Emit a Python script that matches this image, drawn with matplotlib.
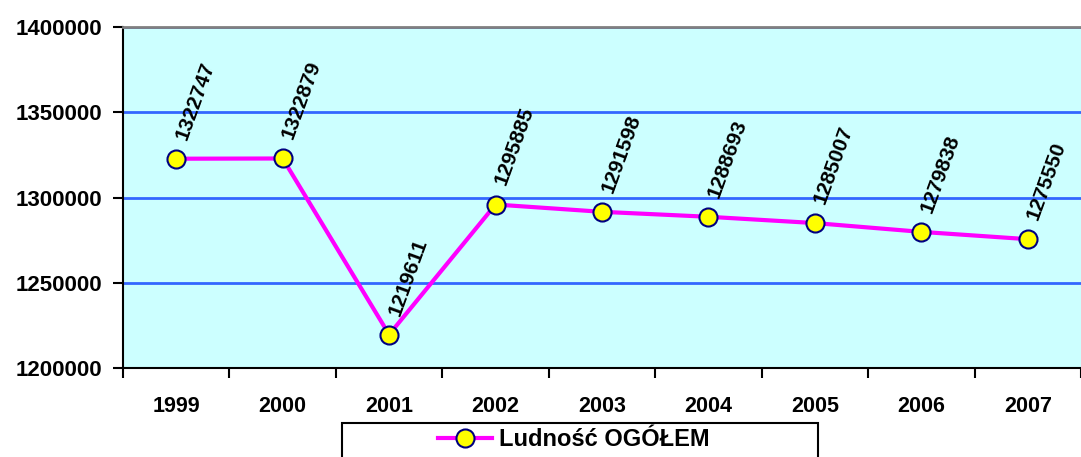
import matplotlib.pyplot as plt
from matplotlib.patches import Rectangle

years = ['1999', '2000', '2001', '2002', '2003', '2004', '2005', '2006', '2007']
population = [1322747, 1322879, 1219611, 1295885, 1291598, 1288693, 1285007, 1279838, 1275550]
y_ticks = [1200000, 1250000, 1300000, 1350000, 1400000]

plt.rcParams['font.family'] = ['Liberation Sans', 'DejaVu Sans']

fig = plt.figure(figsize=(10.81, 4.57), dpi=100)
ax = fig.add_axes([123/1081, 1 - 368/457, 1 - 123/1081, (368 - 27)/457])
ax.set_facecolor('#CCFFFF')

x = list(range(len(years)))
ax.plot(x, population, color='#FF00FF', lw=3, marker='o', ms=13,
        mfc='#FFFF00', mec='#000080', mew=1.5, label='Ludność OGÓŁEM', zorder=3)

for xi, v in zip(x, population):
    ax.annotate(str(v), (xi, v), xytext=(10, 12), textcoords='offset points',
                rotation=70, rotation_mode='anchor', ha='left', va='bottom',
                fontsize=15, fontweight='bold')

ax.set_xlim(-0.5, len(years) - 0.5)
ax.set_ylim(1200000, 1400000)
ax.set_yticks(y_ticks)
ax.set_yticklabels([str(t) for t in y_ticks], fontsize=16, fontweight='bold')
ax.yaxis.grid(True, color='#3366FF', lw=2)
ax.set_axisbelow(True)

ax.set_xticks([i - 0.5 for i in range(len(years) + 1)])
ax.set_xticklabels([])
ax.set_xticks(x, minor=True)
ax.set_xticklabels(years, minor=True, fontsize=15.5, fontweight='bold')
ax.tick_params(axis='x', which='minor', length=0, pad=20)
ax.tick_params(axis='x', which='major', length=7, width=1.5, direction='out')
ax.tick_params(axis='y', length=7, width=1.5, direction='out', pad=8)

ax.spines['top'].set_color('#808080')
ax.spines['top'].set_linewidth(2)
ax.spines['right'].set_visible(False)
ax.spines['left'].set_linewidth(1.5)
ax.spines['bottom'].set_linewidth(1.5)

fig.patches.append(Rectangle((342/1081, -0.05), (818 - 342)/1081, 0.05 + 34/457,
                             transform=fig.transFigure, fill=False,
                             edgecolor='black', lw=1.5))
fig.legend(loc='center', bbox_to_anchor=(574/1081, 17/457), frameon=False,
           prop={'size': 17, 'weight': 'bold'}, handlelength=2.3, handletextpad=0.3)

fig.savefig('out.png', dpi=100)
